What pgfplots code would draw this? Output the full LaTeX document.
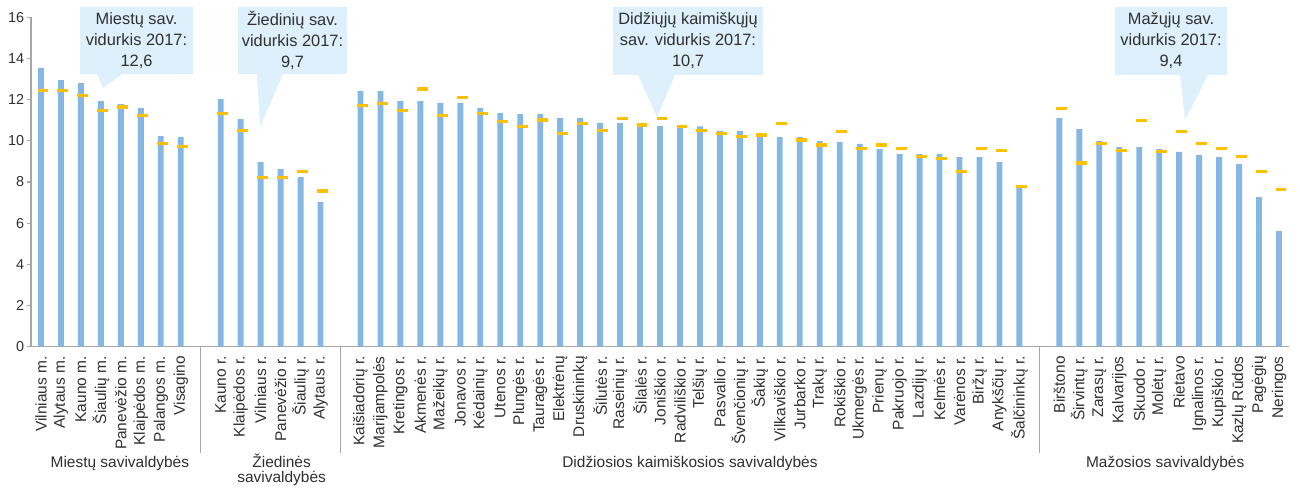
\documentclass[border=0pt]{standalone}
\usepackage{fontspec}
\setmainfont{Liberation Sans}
\usepackage{pgfplots}
\pgfplotsset{compat=1.18}
\usepackage{pgfplotstable}

\definecolor{barblue}{HTML}{85B7E2}
\definecolor{markorange}{HTML}{FFC000}
\definecolor{callout}{HTML}{DDF0FB}
\definecolor{axisgray}{HTML}{A6A6A6}
\definecolor{txt}{HTML}{303030}

% x = slot (empty slots 8, 15, 50 separate the groups), val = bar, avg = orange dash
\pgfplotstableread{
x val avg
0 13.54 12.45
1 12.95 12.45
2 12.81 12.19
3 11.93 11.48
4 11.79 11.64
5 11.59 11.24
6 10.23 9.88
7 10.18 9.73
9 12.03 11.33
10 11.06 10.52
11 8.97 8.21
12 8.63 8.21
13 8.24 8.53
14 7.03 7.56
16 12.42 11.72
17 12.42 11.80
18 11.93 11.48
19 11.93 12.52
20 11.84 11.24
21 11.84 12.11
22 11.59 11.34
23 11.35 10.93
24 11.30 10.69
25 11.30 11.01
26 11.11 10.36
27 11.11 10.85
28 10.86 10.52
29 10.86 11.09
30 10.72 10.77
31 10.72 11.09
32 10.70 10.69
33 10.70 10.52
34 10.48 10.36
35 10.48 10.20
36 10.23 10.28
37 10.18 10.85
38 10.18 10.04
39 9.99 9.80
40 9.94 10.44
41 9.85 9.64
42 9.60 9.80
43 9.36 9.64
44 9.36 9.25
45 9.36 9.16
46 9.21 8.52
47 9.21 9.64
48 8.97 9.55
49 7.72 7.80
51 11.11 11.56
52 10.57 8.92
53 9.99 9.88
54 9.70 9.55
55 9.70 10.99
56 9.60 9.47
57 9.46 10.44
58 9.31 9.88
59 9.21 9.64
60 8.87 9.25
61 7.27 8.52
62 5.62 7.64
}\data

\begin{document}
\begin{tikzpicture}
\path[use as bounding box] (0,0) rectangle (975pt,366pt);
\begin{axis}[
  at={(23.25pt,105.98pt)}, anchor=south west,
  scale only axis, width=943.5pt, height=247pt,
  xmin=-0.5, xmax=62.5, ymin=0, ymax=16,
  axis x line*=bottom, axis y line*=left,
  axis line style={-, draw=axisgray, line width=1pt},
  ytick={0,2,...,16},
  tick align=outside, major tick length=3pt,
  y tick style={draw=axisgray, line width=0.8pt},
  x tick style={draw=none},
  xtick=data,
  xticklabels={Vilniaus m.,Alytaus m.,Kauno m.,Šiaulių m.,Panevėžio m.,Klaipėdos m.,Palangos m.,Visagino,
    Kauno r.,Klaipėdos r.,Vilniaus r.,Panevėžio r.,Šiaulių r.,Alytaus r.,
    Kaišiadorių r.,Marijampolės,Kretingos r.,Akmenės r.,Mažeikių r.,Jonavos r.,Kėdainių r.,Utenos r.,Plungės r.,Tauragės r.,Elektrėnų,Druskininkų,Šilutės r.,Raseinių r.,Šilalės r.,Joniškio r.,Radviliškio r.,Telšių r.,Pasvalio r.,Švenčionių r.,Šakių r.,Vilkaviškio r.,Jurbarko r.,Trakų r.,Rokiškio r.,Ukmergės r.,Prienų r.,Pakruojo r.,Lazdijų r.,Kelmės r.,Varėnos r.,Biržų r.,Anykščių r.,Šalčininkų r.,
    Birštono,Širvintų r.,Zarasų r.,Kalvarijos,Skuodo r.,Molėtų r.,Rietavo,Ignalinos r.,Kupiškio r.,Kazlų Rūdos,Pagėgių,Neringos},
  xticklabel style={rotate=90, anchor=east, inner xsep=4pt, inner ysep=0pt,
    font=\fontsize{11.6}{13}\selectfont, text=txt},
  yticklabel style={font=\fontsize{10.8}{12}\selectfont, text=txt, inner xsep=2pt},
  /pgf/number format/assume math mode=true,
  clip=false,
]
\addplot[ybar, bar width=4.4pt, fill=barblue, draw=none] table[x=x, y=val] {\data};
\addplot[only marks, mark=-, mark size=4.1pt,
  mark options={draw=markorange, line width=2.4pt, xshift=1.5pt}] table[x=x, y=avg] {\data};

% group separators below the axis
\draw[axisgray, line width=0.8pt] (axis cs:8,0) -- ++(0pt,-79.5pt);
\draw[axisgray, line width=0.8pt] (axis cs:15,0) -- ++(0pt,-79.5pt);
\draw[axisgray, line width=0.8pt] (axis cs:50,0) -- ++(0pt,-79.5pt);

\begin{scope}[font=\fontsize{11.6}{13}\selectfont, text=txt]
\node[anchor=base] at ([yshift=-90.75pt]axis cs:3.95,0) {Miestų savivaldybės};
\node[anchor=base] at ([yshift=-90.75pt]axis cs:12.05,0) {Žiedinės};
\node[anchor=base] at ([yshift=-101.5pt]axis cs:12.05,0) {savivaldybės};
\node[anchor=base] at ([yshift=-90.75pt]axis cs:32.5,0) {Didžiosios kaimiškosios savivaldybės};
\node[anchor=base] at ([yshift=-90.75pt]axis cs:56.3,0) {Mažosios savivaldybės};
\end{scope}
\end{axis}

% callouts, in pixel units measured from the top left corner
\begin{scope}[yshift=366pt, x=0.75pt, y=-0.75pt]
\fill[callout] (80,7) -- (193,7) -- (193,74) -- (122,74) -- (103,88) -- (97,74) -- (80,74) -- cycle;
\fill[callout] (238,7) -- (347,7) -- (347,74) -- (283,74) -- (260,127) -- (257,74) -- (238,74) -- cycle;
\fill[callout] (613,7) -- (763,7) -- (763,75) -- (675,75) -- (657,117) -- (638,75) -- (613,75) -- cycle;
\fill[callout] (1115,7) -- (1227,7) -- (1227,75) -- (1208,75) -- (1185,120) -- (1180,75) -- (1115,75) -- cycle;
\begin{scope}[every node/.style={align=center, text=txt, font=\fontsize{12.3}{15.75}\selectfont}]
\node at (136.5,40.5) {Miestų sav.\\vidurkis 2017:\\12,6};
\node at (292.5,40.5) {Žiedinių sav.\\vidurkis 2017:\\9,7};
\node at (688,41) {Didžiųjų kaimiškųjų\\sav. vidurkis 2017:\\10,7};
\node at (1171,41) {Mažųjų sav.\\vidurkis 2017:\\9,4};
\end{scope}
\end{scope}
\end{tikzpicture}
\end{document}
